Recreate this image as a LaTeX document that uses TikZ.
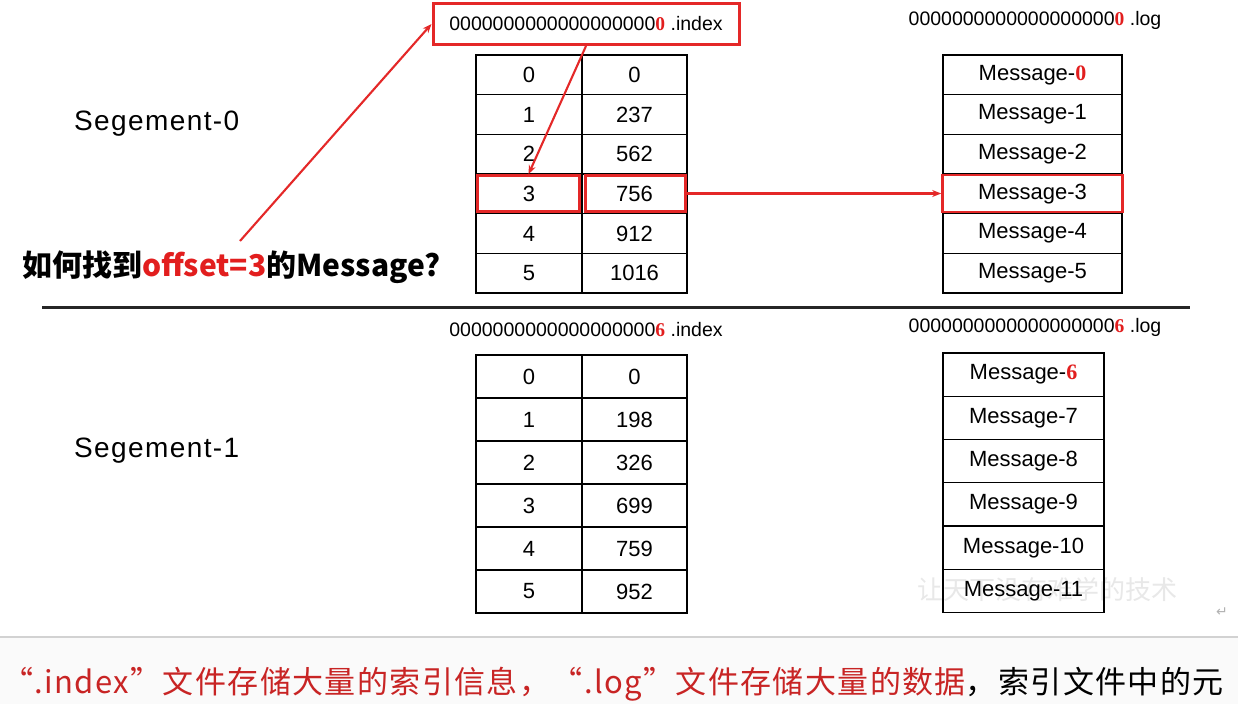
\documentclass[tikz,border=0pt]{standalone}
\usepackage{fontspec}
\setmainfont{Liberation Sans}
\newfontfamily\cjk{Noto Sans CJK SC}
\newfontfamily\cjkspaced{Noto Sans CJK SC}[LetterSpace=4.5]
\newfontfamily\segfont{Liberation Sans}[LetterSpace=5]
\newfontfamily\serifface{Liberation Serif}
\newfontfamily\dejavu{DejaVu Sans}
\usetikzlibrary{arrows.meta}
\definecolor{hlred}{RGB}{228,40,40}
\definecolor{txtred}{RGB}{226,30,30}
\definecolor{botred}{RGB}{200,36,36}
\newcommand\rd[1]{\textcolor{txtred}{\serifface\bfseries #1}}
\begin{document}
\begin{tikzpicture}[x=1pt,y=-1pt,
  cell/.style={draw=black, line width=1.1pt, inner sep=0pt, font=\fontsize{22}{24}\selectfont},
  hl/.style={draw=hlred, line width=2.6pt, inner sep=0pt},
  arr/.style={draw=hlred, line width=2.1pt, -{Stealth[length=9pt,width=7pt]}},
  fname/.style={font=\fontsize{19.5}{21}\selectfont, inner sep=0pt},
  seg/.style={font=\segfont\fontsize{28}{30}\selectfont, anchor=west, inner sep=0pt}]
\useasboundingbox (0,0) rectangle (1238,704);
\fill[white] (0,0) rectangle (1238,704);
\fill[gray!4] (0,638) rectangle (1238,704);
\draw[gray!35, line width=1.5pt] (0,637) -- (1238,637);

% watermark
\node[font=\cjk\fontsize{26}{28}\selectfont, text=gray!18, inner sep=0pt] (wm) at (1047,590) {让天下没有难学的技术};

% segment labels
\node[seg] (s0) at (74,124) {Segement-0};
\node[seg] (s1) at (74,451) {Segement-1};

% upper index table
\foreach \i/\a/\b in {0/0/0,1/1/237,2/2/562,3/3/756,4/4/912,5/5/1016}{
  \node[cell, minimum width=106pt, minimum height=39.67pt] (ua\i) at (529,{74.83+\i*39.67}) {\a};
  \node[cell, minimum width=105pt, minimum height=39.67pt] (ub\i) at (634.5,{74.83+\i*39.67}) {\b};
}
% upper log table
\node[cell, minimum width=179pt, minimum height=39.67pt] (ul0) at (1032.5,74.83) {Message-\rd{0}};
\foreach \i in {1,...,5}{
  \node[cell, minimum width=179pt, minimum height=39.67pt] (ul\i) at (1032.5,{74.83+\i*39.67}) {Message-\i};
}
% highlights
\node[hl, minimum width=102pt, minimum height=36pt] (r3a) at (528.5,193.5) {};
\node[hl, minimum width=100pt, minimum height=36pt] (r3b) at (635.5,193.5) {};
\node[hl, minimum width=180pt, minimum height=37pt] (m3) at (1032.5,193.5) {};

% file names
\node[hl, line width=3pt, fill=white, minimum width=306pt, minimum height=41pt, fname] (idx) at (586,24) {0000000000000000000\rd{0} .index};
\node[fname] (log0) at (1035,20) {0000000000000000000\rd{0} .log};
\node[fname] (idx6) at (586,330) {0000000000000000000\rd{6} .index};
\node[fname] (log6) at (1035,327) {0000000000000000000\rd{6} .log};

% question
\node[font=\cjk\bfseries\fontsize{30}{32}\selectfont, inner sep=0pt, anchor=west] (q) at (22,267) {如何找到\textcolor{txtred}{offset=3}的Message?};
\coordinate (qs) at (240,241);

% separator
\draw[black!85, line width=3pt] (42,307) -- (1190,307);

% lower index table
\foreach \i/\a/\b in {0/0/0,1/1/198,2/2/326,3/3/699,4/4/759,5/5/952}{
  \node[cell, minimum width=106pt, minimum height=43pt] (la\i) at (529,{376.5+\i*43}) {\a};
  \node[cell, minimum width=105pt, minimum height=43pt] (lb\i) at (634.5,{376.5+\i*43}) {\b};
}
% lower log table
\node[cell, minimum width=161pt, minimum height=43.25pt] (ll0) at (1023.5,374.6) {Message-\rd{6}};
\foreach \i/\m in {1/7,2/8,3/9,4/10,5/11}{
  \node[cell, minimum width=161pt, minimum height=43.25pt] (ll\i) at (1023.5,{374.6+\i*43.25}) {Message-\m};
}

% arrows
\draw[arr] (qs) -- (idx.west);
\draw[arr] (idx.south) -- (r3a.north);
\draw[arr] (r3b.east) -- (m3.west);

% return mark
\node[font=\dejavu\fontsize{14}{16}\selectfont, text=gray!60, inner sep=0pt] (ret) at (1222,612) {↵};

% bottom text
\node[font=\cjkspaced\fontsize{31}{33}\selectfont, inner sep=0pt, anchor=west] (bt) at (2,684) {\textcolor{botred}{“.index”文件存储大量的索引信息，“.log”文件存储大量的数据}，索引文件中的元};
\end{tikzpicture}
\end{document}
